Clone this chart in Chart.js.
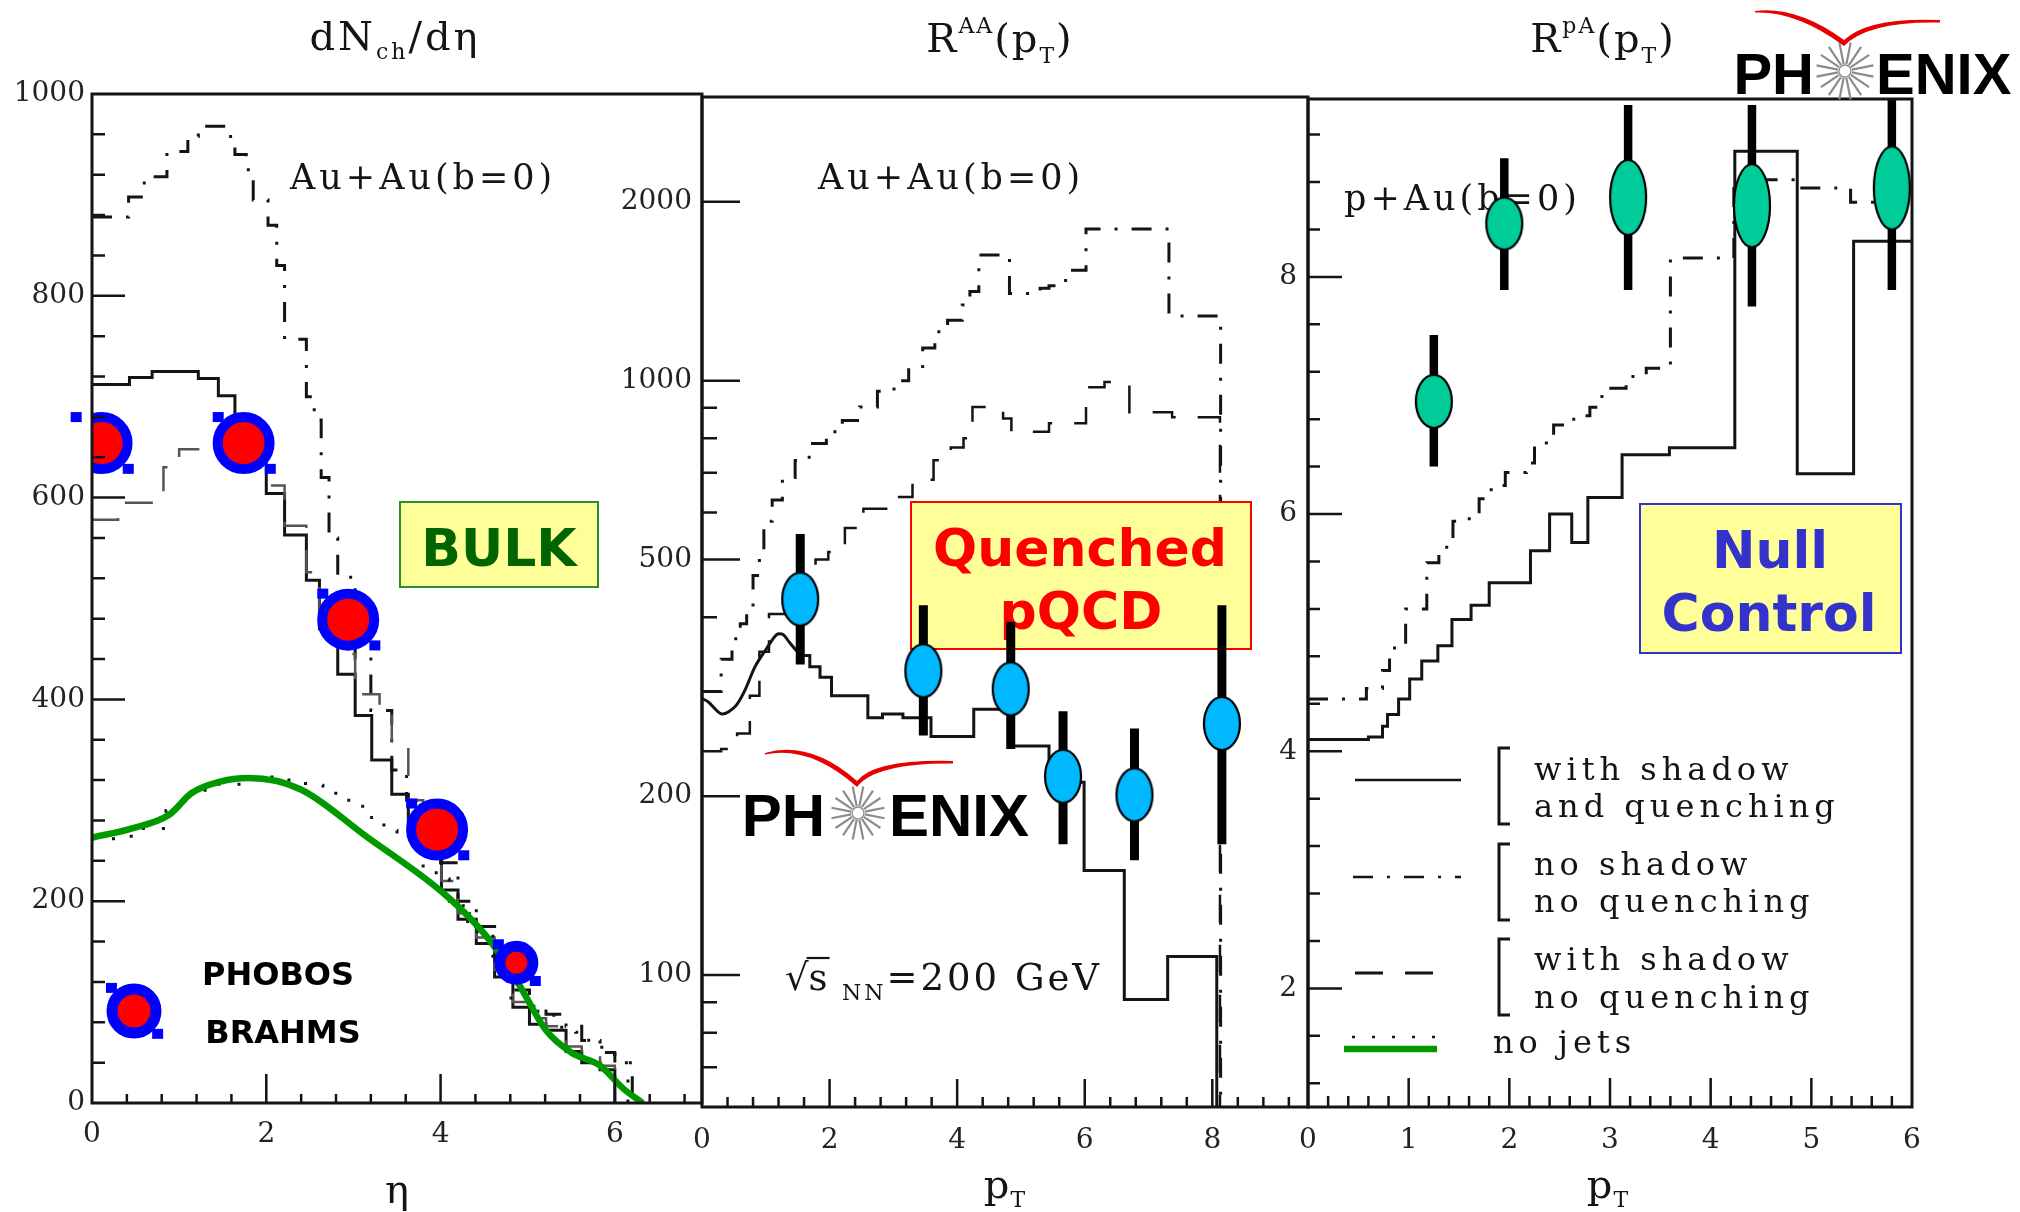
<!DOCTYPE html>
<html>
<head>
<meta charset="utf-8">
<script src="https://cdn.jsdelivr.net/npm/chart.js@4"></script>
<style>
html,body{margin:0;padding:0;background:#fff;}
body{width:2020px;height:1212px;position:relative;overflow:hidden;}
canvas{position:absolute;top:0;}
</style>
</head>
<body>
<canvas id="c1" width="720" height="1212" style="left:0px;width:720px;height:1212px"></canvas>
<canvas id="c2" width="720" height="1212" style="left:600px;width:720px;height:1212px"></canvas>
<canvas id="c3" width="820" height="1212" style="left:1200px;width:820px;height:1212px"></canvas>
<script>
// ================= DATA =================
// tick labels
const etaTickLabels = [0, 2, 4, 6];
const dndetaTickLabels = [0, 200, 400, 600, 800, 1000];
const ptAATickLabels = [0, 2, 4, 6, 8];
const rAATickLabels = [100, 200, 500, 1000, 2000];
const rAAMinorTicks = [70, 80, 90, 300, 400, 600, 700, 800, 900];
const ptPATickLabels = [0, 1, 2, 3, 4, 5, 6];
const rPATickLabels = [2, 4, 6, 8];

// Panel 1: dN/deta (PHOBOS / BRAHMS points)
const dataEta = [0.11, 1.74, 2.94, 3.96, 4.87];
const dataDndeta = [654, 654, 479, 271, 139];
// with shadow and quenching (solid histogram)
const etaSolidEdges = [0, 0.43, 0.69, 1.22, 1.45, 1.64, 2.0, 2.21, 2.46, 2.61, 2.82, 3.02, 3.21, 3.44, 3.63, 4.01, 4.2, 4.41, 4.62, 4.83, 5.02, 5.21, 5.44, 5.62, 5.83, 6.0];
const dndetaSolid = [712, 719, 725, 718, 701, 640, 604, 563, 518, 470, 425, 384, 340, 306, 270, 211, 182, 158, 125, 95, 78, 72, 51, 40, 33, 0];
// no shadow no quenching (dash-dot)
const etaDashDotEdges = [0, 0.42, 0.6, 0.86, 1.1, 1.22, 1.55, 1.64, 1.77, 1.85, 2.02, 2.12, 2.21, 2.46, 2.55, 2.63, 2.72, 2.82, 3.02, 3.2, 3.44, 3.61, 3.8, 4.0, 4.2, 4.41, 4.62, 4.83, 5.02, 5.21, 5.44, 5.62, 5.83, 6.0, 6.2];
const dndetaDashDot = [878, 898, 918, 943, 958, 968, 958, 940, 925, 895, 870, 830, 757, 700, 677, 620, 560, 521, 440, 389, 330, 300, 268, 238, 200, 175, 148, 112, 96, 88, 76, 62, 50, 40, 0];
// with shadow no quenching (dashed)
const etaDashedEdges = [0, 0.3, 0.82, 1.0, 1.24, 1.64, 2.0, 2.21, 2.46, 2.61, 2.82, 3.02, 3.3, 3.44, 3.63, 3.8, 4.01, 4.2, 4.41, 4.62, 4.83, 5.02, 5.21, 5.44, 5.62, 5.83, 6.0];
const dndetaDashed = [578, 595, 630, 648, 655, 645, 612, 572, 526, 480, 445, 405, 389, 352, 300, 258, 220, 188, 164, 132, 100, 84, 76, 56, 45, 37, 0];
// no jets (dotted histogram)
const etaDottedEdges = [0, 0.45, 0.85, 1.0, 1.15, 1.4, 1.75, 2.2, 2.45, 2.65, 2.84, 3.0, 3.15, 3.35, 3.5, 3.65, 3.8, 3.95, 4.1, 4.26, 4.42, 4.6, 4.77, 5.0, 5.2, 5.35, 5.55, 5.7, 5.85, 6.0, 6.15];
const dndetaDotted = [262, 272, 290, 305, 310, 316, 323, 320, 315, 307, 300, 294, 283, 270, 262, 250, 235, 222, 200, 180, 168, 135, 104, 91, 87, 75, 70, 57, 48, 40, 0];
// no jets (green smooth curve)
const etaNoJets = [0, 0.45, 0.89, 1.14, 1.45, 1.8, 2.39, 3.15, 3.99, 4.45, 4.6, 4.91, 5.21, 5.5, 5.83, 6.1, 6.32];
const dndetaNoJets = [263, 272, 286, 307, 318, 322, 311, 264, 211, 173, 157, 116, 72, 50, 37, 14, 0];

// Panel 2: R_AA(pT) (PHENIX points)
const ptAA = [1.54, 3.47, 4.84, 5.66, 6.78, 8.15];
const rAA = [429, 325, 303, 216, 201, 265];
const rAAHigh = [552, 419, 393, 278, 260, 419];
const rAALow = [333, 253, 240, 166, 156, 166];
const ptAASolidSmooth = [0, 0.1, 0.31, 0.52, 0.67, 0.83, 1.01, 1.17, 1.27, 1.37, 1.5, 1.59];
const rAASolidSmooth = [292, 288, 275, 283, 301, 330, 354, 374, 374, 363, 350, 345];
const ptAASolidEdges = [1.59, 1.69, 1.85, 2.03, 2.6, 2.83, 3.15, 3.59, 4.26, 4.85, 5.44, 5.99, 6.62, 7.3, 8.07];
const rAASolid = [345, 330, 317, 295, 271, 275, 271, 252, 280, 243, 211, 150, 91, 107.5, 10];
const ptAADashDotEdges = [0, 0.3, 0.47, 0.6, 0.7, 0.8, 0.9, 0.97, 1.1, 1.26, 1.46, 1.68, 1.95, 2.2, 2.47, 2.75, 3.01, 3.24, 3.46, 3.65, 3.85, 4.08, 4.2, 4.34, 4.82, 5.3, 5.44, 5.7, 6.02, 7.32, 8.13];
const rAADashDot = [300, 340, 368, 390, 410, 470, 520, 580, 630, 687, 734, 784, 820, 857, 903, 960, 1000, 1056, 1135, 1208, 1263, 1341, 1412, 1627, 1402, 1430, 1444, 1533, 1800, 1285, 10];
const ptAADashedEdges = [0, 0.3, 0.55, 0.75, 0.9, 1.05, 1.3, 1.55, 1.78, 1.98, 2.24, 2.53, 3.05, 3.3, 3.63, 3.9, 4.1, 4.24, 4.72, 4.85, 5.44, 6.02, 6.31, 6.7, 7.37, 8.12];
const rAADashed = [238, 240, 255, 295, 350, 405, 440, 470, 500, 515, 565, 609, 637, 681, 735, 772, 800, 903, 864, 820, 848, 975, 995, 885, 868, 10];

// Panel 3: R_pA(pT)
const ptPA = [1.25, 1.95, 3.18, 4.41, 5.80];
const rPA = [6.95, 8.45, 8.67, 8.60, 8.75];
const rPAHigh = [7.51, 9.0, 9.45, 9.45, 9.5];
const rPALow = [6.40, 7.89, 7.89, 7.75, 7.89];
const ptPASolidEdges = [0, 0.6, 0.74, 0.79, 0.9, 1.01, 1.13, 1.29, 1.43, 1.62, 1.8, 2.21, 2.4, 2.62, 2.78, 3.12, 3.59, 4.24, 4.86, 5.42, 6.0];
const rPASolid = [4.10, 4.12, 4.21, 4.31, 4.44, 4.61, 4.76, 4.89, 5.11, 5.23, 5.42, 5.69, 6.0, 5.76, 6.14, 6.5, 6.56, 9.06, 6.34, 8.3, 8.3];
const ptPADashDotEdges = [0, 0.42, 0.58, 0.74, 0.81, 0.97, 1.18, 1.3, 1.44, 1.58, 1.7, 1.82, 1.96, 2.17, 2.25, 2.44, 2.64, 2.8, 2.92, 3.16, 3.36, 3.6, 4.23, 4.84, 5.39, 6.0];
const rPADashDot = [4.44, 4.44, 4.53, 4.68, 4.87, 5.2, 5.59, 5.72, 5.94, 5.96, 6.13, 6.24, 6.35, 6.43, 6.6, 6.75, 6.83, 6.9, 7.06, 7.16, 7.23, 8.16, 8.82, 8.75, 8.63, 8.63];

// ================= STYLE / HELPERS =================
const INK = '#141414';
const SERIF = "'DejaVu Serif', 'Liberation Serif', serif";
const SANS = "'DejaVu Sans', 'Liberation Sans', sans-serif";
const ARIAL = "'Liberation Sans', Arial, sans-serif";
const DASHDOT = [20, 14, 3, 14];
const DASHED = [28, 22];
const DOTTED = [3, 17];

Chart.defaults.animation = false;
Chart.defaults.font.family = SERIF;
Chart.defaults.color = '#222';

function pts(xs, ys) { return xs.map((x, i) => ({ x: x, y: ys[i] })); }
function rangeTicks(min, max, step) {
  const a = []; const n = Math.round((max - min) / step);
  for (let i = 0; i <= n; i++) a.push(+(min + i * step).toFixed(6));
  return a;
}
function setLS(ctx, v) { if ('letterSpacing' in ctx) ctx.letterSpacing = (v || 0) + 'px'; }

function scaleCfg(type, min, max, allTicks, labels, size, pad, isX) {
  return {
    type: type, min: min, max: max, position: isX ? 'bottom' : 'left',
    grid: { display: false, drawTicks: false }, border: { display: false },
    ticks: { autoSkip: false, maxRotation: 0, minRotation: 0, padding: pad,
      font: { size: 28, family: SERIF }, color: '#222',
      callback: v => labels.includes(v) ? String(v) : '' },
    afterBuildTicks: s => { s.ticks = allTicks.map(v => ({ value: v })); },
    afterFit: s => { if (isX) s.height = size; else s.width = size; }
  };
}

function frameTicks(cfg) {
  return {
    id: 'frameTicks',
    afterDatasetsDraw(chart) {
      const ctx = chart.ctx, a = chart.chartArea, xs = chart.scales.x, ys = chart.scales.y;
      ctx.save(); ctx.strokeStyle = INK; ctx.lineWidth = 2.5; ctx.setLineDash([]);
      ctx.beginPath();
      xs.ticks.forEach(t => {
        const p = xs.getPixelForValue(t.value);
        if (p < a.left + 1 || p > a.right - 1) return;
        const L = cfg.xLabels.includes(t.value) ? cfg.xMajor : cfg.xMinor;
        ctx.moveTo(p, a.bottom); ctx.lineTo(p, a.bottom - L);
      });
      ys.ticks.forEach(t => {
        const p = ys.getPixelForValue(t.value);
        if (p < a.top + 1 || p > a.bottom - 1) return;
        const L = cfg.yLabels.includes(t.value) ? cfg.yMajor : cfg.yMinor;
        ctx.moveTo(a.left, p); ctx.lineTo(a.left + L, p);
      });
      ctx.stroke();
      ctx.lineWidth = 3;
      ctx.strokeRect(a.left, a.top, a.right - a.left, a.bottom - a.top);
      ctx.restore();
    }
  };
}

function richText(ctx, parts, x, y, align, family, ls) {
  ctx.save();
  ctx.textBaseline = 'alphabetic'; ctx.textAlign = 'left'; ctx.fillStyle = INK;
  setLS(ctx, ls);
  const ws = parts.map(p => { ctx.font = (p[3] || 'normal') + ' ' + p[1] + 'px ' + family; return ctx.measureText(p[0]).width; });
  const total = ws.reduce((s, w) => s + w, 0);
  let cx = align === 'center' ? x - total / 2 : (align === 'right' ? x - total : x);
  parts.forEach((p, i) => {
    ctx.font = (p[3] || 'normal') + ' ' + p[1] + 'px ' + family;
    ctx.fillText(p[0], cx, y + (p[2] || 0));
    cx += ws[i];
  });
  ctx.restore();
  return total;
}

function textBox(ctx, x, y, w, h, border, lines, color) {
  ctx.save();
  ctx.fillStyle = '#FFFF99'; ctx.fillRect(x, y, w, h);
  ctx.strokeStyle = border; ctx.lineWidth = 2; ctx.strokeRect(x, y, w, h);
  ctx.fillStyle = color; ctx.textAlign = 'center'; ctx.textBaseline = 'alphabetic';
  ctx.font = 'bold 52px ' + SANS;
  lines.forEach(l => ctx.fillText(l[0], l[1], l[2]));
  ctx.restore();
}

function phenixLogo(ctx, cx, cy, r, baseline, size, gapL, gapR, sw) {
  ctx.save();
  ctx.fillStyle = '#000'; ctx.textBaseline = 'alphabetic';
  ctx.font = 'bold ' + size + 'px ' + ARIAL;
  ctx.textAlign = 'right'; ctx.fillText('PH', cx - r - gapL, baseline);
  ctx.textAlign = 'left'; ctx.fillText('ENIX', cx + r + gapR, baseline);
  ctx.strokeStyle = '#8c8c8c'; ctx.lineWidth = 2.2;
  ctx.beginPath();
  for (let k = 0; k < 16; k++) {
    const ang = k * Math.PI / 8 + Math.PI / 16;
    ctx.moveTo(cx + Math.cos(ang) * 7, cy + Math.sin(ang) * 7);
    ctx.lineTo(cx + Math.cos(ang) * r, cy + Math.sin(ang) * r);
  }
  ctx.stroke();
  ctx.beginPath(); ctx.lineWidth = 1.3; ctx.arc(cx, cy, 6, 0, Math.PI * 2); ctx.stroke();
  // red swoosh
  ctx.fillStyle = '#e60000';
  ctx.beginPath();
  ctx.moveTo(sw[0], sw[1]);
  ctx.quadraticCurveTo(sw[2], sw[3] - 2, sw[4], sw[5] + 1);
  ctx.quadraticCurveTo(sw[6], sw[7] - 2, sw[8], sw[9]);
  ctx.lineTo(sw[8], sw[9] + 2.5);
  ctx.quadraticCurveTo(sw[6], sw[7] + 2, sw[4], sw[5] + 7);
  ctx.quadraticCurveTo(sw[2], sw[3] + 3, sw[0], sw[1] + 1.5);
  ctx.closePath(); ctx.fill();
  ctx.restore();
}

function ellipseCanvas(w, h, fill) {
  const c = document.createElement('canvas');
  c.width = Math.ceil(w + 4); c.height = Math.ceil(h + 4);
  const g = c.getContext('2d');
  g.beginPath(); g.ellipse(c.width / 2, c.height / 2, w / 2, h / 2, 0, 0, Math.PI * 2);
  g.fillStyle = fill; g.fill(); g.lineWidth = 2.2; g.strokeStyle = '#000'; g.stroke();
  return c;
}

function errorBars(chart, xsArr, hi, lo, width) {
  const ctx = chart.ctx, xs = chart.scales.x, ys = chart.scales.y;
  ctx.save(); ctx.strokeStyle = '#000'; ctx.lineWidth = width; ctx.lineCap = 'butt'; ctx.setLineDash([]);
  ctx.beginPath();
  xsArr.forEach((x, i) => {
    const px = xs.getPixelForValue(x);
    ctx.moveTo(px, ys.getPixelForValue(hi[i])); ctx.lineTo(px, ys.getPixelForValue(lo[i]));
  });
  ctx.stroke(); ctx.restore();
}

function lineDs(label, data, opts) {
  return Object.assign({ label: label, data: data, borderColor: INK, borderWidth: 3, pointRadius: 0, fill: false, stepped: true }, opts);
}

const baseOpts = (pad) => ({
  responsive: false, maintainAspectRatio: false, animation: false, events: [],
  layout: { padding: pad },
  plugins: { legend: { display: false }, tooltip: { enabled: false }, title: { display: false } }
});

// keep the plot area's right edge where the reference has it
function pinRight(chart, targetRight) {
  const diff = targetRight - chart.chartArea.right;
  if (Math.abs(diff) > 0.5) chart.resize(Math.round(chart.width + diff), chart.height);
}

// ================= CHART 1 =================
const m1Radius = [26, 26, 26, 26, 16.5];
const m1Border = [10, 10, 10, 10, 11];
function blueSquares(ctx, x, y, R) {
  ctx.fillStyle = '#0000ff';
  ctx.fillRect(x - 0.82 * R - 5.5, y - 0.84 * R - 5, 11, 10);
  ctx.fillRect(x + 0.86 * R - 5.5, y + 0.83 * R - 5, 11, 10);
}
const annot1 = {
  id: 'annot1',
  beforeDatasetsDraw(chart) {
    const ctx = chart.ctx;
    richText(ctx, [['Au+Au(b=0)', 35, 0]], 290, 189, 'left', SERIF, 4);
  },
  beforeDatasetDraw(chart, args) {
    if (chart.data.datasets[args.index].label !== 'markers') return;
    const ctx = chart.ctx; ctx.save();
    args.meta.data.forEach((el, i) => blueSquares(ctx, el.x, el.y, m1Radius[i] + m1Border[i] / 2));
    ctx.restore();
  },
  afterDraw(chart) {
    const ctx = chart.ctx;
    richText(ctx, [['dN', 40, 0], ['ch', 22, 9], ['/dη', 40, 0]], 395, 50, 'center', SERIF, 3);
    richText(ctx, [['η', 40, 0]], 397, 1203, 'center', SERIF, 0);
    textBox(ctx, 400, 502, 198, 85, '#2e8b2e', [['BULK', 499, 566]], '#006400');
    ctx.save();
    ctx.fillStyle = '#000'; ctx.textAlign = 'center'; ctx.font = 'bold 32px ' + SANS;
    ctx.fillText('PHOBOS', 278, 985);
    ctx.fillText('BRAHMS', 283, 1043);
    // legend marker
    blueSquares(ctx, 134, 1011, 27.5);
    ctx.beginPath(); ctx.arc(134, 1011, 22, 0, Math.PI * 2);
    ctx.fillStyle = '#ff0000'; ctx.fill(); ctx.lineWidth = 11; ctx.strokeStyle = '#0000ff'; ctx.stroke();
    ctx.restore();
  }
};

const chart1 = new Chart(document.getElementById('c1'), {
  type: 'line',
  data: { datasets: [
    { label: 'markers', data: pts(dataEta, dataDndeta), showLine: false, pointStyle: 'circle',
      pointRadius: m1Radius, pointBorderWidth: m1Border, pointBackgroundColor: '#ff0000', pointBorderColor: '#0000ff', order: 0 },
    lineDs('no jets (green)', pts(etaNoJets, dndetaNoJets), { stepped: false, borderColor: '#009a00', borderWidth: 6.5, cubicInterpolationMode: 'monotone', order: 1 }),
    lineDs('no jets', pts(etaDottedEdges, dndetaDotted), { borderDash: DOTTED, borderWidth: 3, order: 2 }),
    lineDs('with shadow no quenching', pts(etaDashedEdges, dndetaDashed), { borderDash: DASHED, borderWidth: 2.5, borderColor: '#555', order: 3 }),
    lineDs('no shadow no quenching', pts(etaDashDotEdges, dndetaDashDot), { borderDash: DASHDOT, order: 4 }),
    lineDs('with shadow and quenching', pts(etaSolidEdges, dndetaSolid), { order: 5 })
  ]},
  options: Object.assign(baseOpts({ top: 94, right: 18, left: 0, bottom: 0 }), {
    scales: {
      x: scaleCfg('linear', 0, 7, rangeTicks(0, 6.8, 0.4), etaTickLabels, 109, 15, true),
      y: scaleCfg('linear', 0, 1000, rangeTicks(0, 1000, 40), dndetaTickLabels, 92, 7, false)
    }
  }),
  plugins: [frameTicks({ xLabels: etaTickLabels, yLabels: dndetaTickLabels, xMajor: 29, xMinor: 9, yMajor: 33, yMinor: 13 }), annot1]
});
pinRight(chart1, 702);

// ================= CHART 2 =================
const OFF2 = 600;
const blueEllipse = ellipseCanvas(36, 53, '#00b8ff');
const annot2 = {
  id: 'annot2',
  beforeDatasetsDraw(chart) {
    const ctx = chart.ctx; ctx.save(); ctx.translate(-OFF2, 0);
    richText(ctx, [['Au+Au(b=0)', 35, 0]], 818, 189, 'left', SERIF, 4);
    // sqrt(s)_NN = 200 GeV
    const w1 = richText(ctx, [['√', 37, 0]], 785, 990, 'left', SERIF, 0);
    const w2 = richText(ctx, [['s', 37, 0]], 785 + w1, 990, 'left', SERIF, 0);
    ctx.save(); ctx.strokeStyle = INK; ctx.lineWidth = 2.2; ctx.beginPath();
    ctx.moveTo(785 + w1 - 2, 958); ctx.lineTo(785 + w1 + w2 + 2, 958); ctx.stroke(); ctx.restore();
    richText(ctx, [['NN', 22, 10], ['=200 GeV', 37, 0]], 842, 990, 'left', SERIF, 3);
    phenixLogo(ctx, 858, 813, 27, 836, 60, 6, 4, [765, 753, 810, 742, 857, 780, 875, 761, 953, 761]);
    ctx.restore();
  },
  beforeDatasetDraw(chart, args) {
    if (chart.data.datasets[args.index].label !== 'markers') return;
    const ctx = chart.ctx; ctx.save(); ctx.translate(-OFF2, 0);
    textBox(ctx, 911, 502, 340, 147, '#ff0000', [['Quenched', 1080, 566], ['pQCD', 1081, 629]], '#ff0000');
    ctx.restore();
    errorBars(chart, ptAA, rAAHigh, rAALow, 9);
  },
  afterDraw(chart) {
    const ctx = chart.ctx; ctx.save(); ctx.translate(-OFF2, 0);
    richText(ctx, [['R', 40, 0], ['AA', 22, -19], ['(p', 40, 0], ['T', 22, 11], [')', 40, 0]], 1000, 52, 'center', SERIF, 2);
    richText(ctx, [['p', 40, 0], ['T', 22, 9]], 1005, 1198, 'center', SERIF, 1);
    ctx.restore();
  }
};

const chart2 = new Chart(document.getElementById('c2'), {
  type: 'line',
  data: { datasets: [
    { label: 'markers', data: pts(ptAA, rAA), showLine: false, pointStyle: blueEllipse, pointRadius: 6, order: 0 },
    lineDs('with shadow no quenching', pts(ptAADashedEdges, rAADashed), { borderDash: DASHED, borderWidth: 2.5, order: 3 }),
    lineDs('no shadow no quenching', pts(ptAADashDotEdges, rAADashDot), { borderDash: DASHDOT, order: 4 }),
    lineDs('with shadow and quenching (low pT)', pts(ptAASolidSmooth, rAASolidSmooth), { stepped: false, tension: 0.3, order: 5 }),
    lineDs('with shadow and quenching', pts(ptAASolidEdges, rAASolid), { order: 5 })
  ]},
  options: Object.assign(baseOpts({ top: 97, right: 12, left: 0, bottom: 0 }), {
    scales: {
      x: scaleCfg('linear', 0, 9.5, rangeTicks(0, 9.2, 0.4), ptAATickLabels, 105, 17, true),
      y: scaleCfg('logarithmic', 60, 3000, rAATickLabels.concat(rAAMinorTicks).sort((a, b) => a - b), rAATickLabels, 102, 10, false)
    }
  }),
  plugins: [frameTicks({ xLabels: ptAATickLabels, yLabels: rAATickLabels, xMajor: 28, xMinor: 10, yMajor: 38, yMinor: 15 }), annot2]
});
pinRight(chart2, 708);

// ================= CHART 3 =================
const OFF3 = 1200;
const greenHeights = [53, 52, 75, 83, 83];
const greenEllipses = greenHeights.map(h => ellipseCanvas(36, h, '#00cc99'));
const annot3 = {
  id: 'annot3',
  beforeDatasetsDraw(chart) {
    const ctx = chart.ctx; ctx.save(); ctx.translate(-OFF3, 0);
    richText(ctx, [['p+Au(b=0)', 35, 0]], 1344, 210, 'left', SERIF, 4);
    ctx.restore();
  },
  beforeDatasetDraw(chart, args) {
    if (chart.data.datasets[args.index].label !== 'markers') return;
    const ctx = chart.ctx; ctx.save(); ctx.translate(-OFF3, 0);
    textBox(ctx, 1640, 504, 261, 149, '#3333cc', [['Null', 1770, 568], ['Control', 1769, 631]], '#3333cc');
    ctx.restore();
    errorBars(chart, ptPA, rPAHigh, rPALow, 8.5);
  },
  afterDraw(chart) {
    const ctx = chart.ctx; ctx.save(); ctx.translate(-OFF3, 0);
    richText(ctx, [['R', 40, 0], ['pA', 22, -19], ['(p', 40, 0], ['T', 22, 11], [')', 40, 0]], 1603, 52, 'center', SERIF, 2);
    richText(ctx, [['p', 40, 0], ['T', 22, 9]], 1608, 1198, 'center', SERIF, 1);
    phenixLogo(ctx, 1845, 71, 29, 94, 58, 2, 2, [1755, 11, 1797, 8, 1844, 39, 1868, 19, 1940, 20]);
    // legend
    ctx.strokeStyle = INK; ctx.lineCap = 'butt';
    const legendLines = [[1355, 1461, 780, [], 2.5, INK], [1353, 1461, 877, DASHDOT, 2.5, INK], [1355, 1440, 973, DASHED, 3, INK], [1352, 1446, 1037, DOTTED, 2.5, INK], [1344, 1437, 1049, [], 6.5, '#009a00']];
    legendLines.forEach(l => {
      ctx.beginPath(); ctx.setLineDash(l[3]); ctx.lineWidth = l[4]; ctx.strokeStyle = l[5];
      ctx.moveTo(l[0], l[2]); ctx.lineTo(l[1], l[2]); ctx.stroke();
    });
    ctx.setLineDash([]); ctx.strokeStyle = INK; ctx.lineWidth = 3;
    [[748, 824], [844, 920], [939, 1015]].forEach(b => {
      ctx.beginPath(); ctx.moveTo(1510, b[0]); ctx.lineTo(1499, b[0]); ctx.lineTo(1499, b[1]); ctx.lineTo(1510, b[1]); ctx.stroke();
    });
    const txt = [['with shadow', 1534, 780], ['and quenching', 1534, 817], ['no shadow', 1534, 875], ['no quenching', 1534, 912], ['with shadow', 1534, 970], ['no quenching', 1534, 1008], ['no jets', 1493, 1053]];
    txt.forEach(t => richText(ctx, [[t[0], 32, 0]], t[1], t[2], 'left', SERIF, 5));
    ctx.restore();
  }
};

const chart3 = new Chart(document.getElementById('c3'), {
  type: 'line',
  data: { datasets: [
    { label: 'markers', data: pts(ptPA, rPA), showLine: false, pointStyle: greenEllipses, pointRadius: 6, order: 0 },
    lineDs('no shadow no quenching', pts(ptPADashDotEdges, rPADashDot), { borderDash: DASHDOT, order: 4 }),
    lineDs('with shadow and quenching', pts(ptPASolidEdges, rPASolid), { order: 5 })
  ]},
  options: Object.assign(baseOpts({ top: 99, right: 108, left: 0, bottom: 0 }), {
    scales: {
      x: scaleCfg('linear', 0, 6, rangeTicks(0, 6, 0.2), ptPATickLabels, 105, 17, true),
      y: scaleCfg('linear', 1, 9.5, rangeTicks(1.2, 9.2, 0.4), rPATickLabels, 108, 11, false)
    }
  }),
  plugins: [frameTicks({ xLabels: ptPATickLabels, yLabels: rPATickLabels, xMajor: 29, xMinor: 11, yMajor: 34, yMinor: 12 }), annot3]
});
pinRight(chart3, 712);
</script>
</body>
</html>
